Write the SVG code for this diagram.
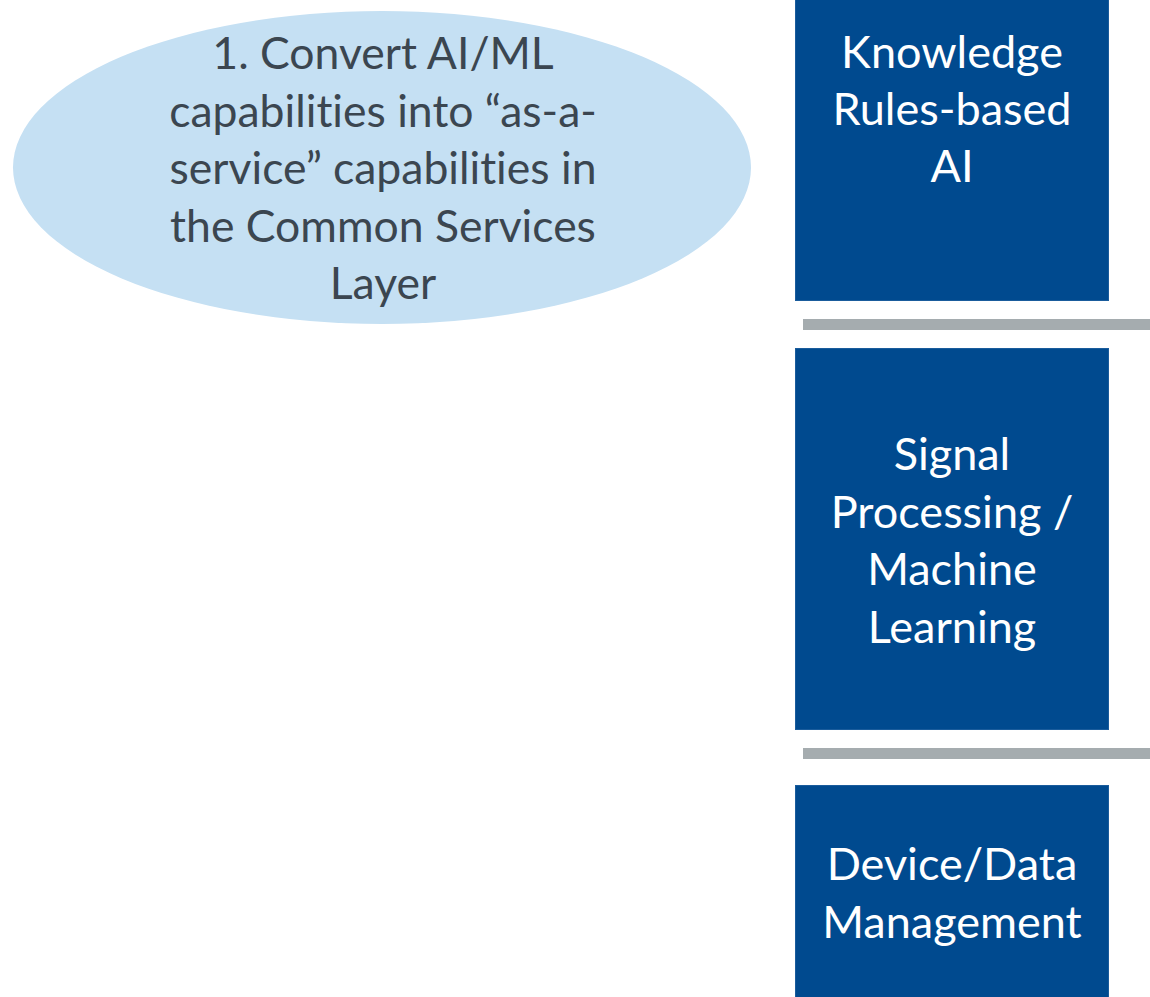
<svg xmlns="http://www.w3.org/2000/svg" width="1150" height="997" viewBox="0 0 1150 997">
<style>
.box{fill:#004a8f;stroke:#1a5c9c;stroke-width:1}
.bar{fill:#a5acaf}
.wt{font-family:Lato,"Open Sans","Liberation Sans",sans-serif;font-size:45px;fill:#ffffff;text-anchor:middle;font-variant-ligatures:none}
.gt{font-family:Lato,"Open Sans","Liberation Sans",sans-serif;font-size:44.5px;fill:#3b4650;text-anchor:middle;font-variant-ligatures:none}
</style>
<rect width="1150" height="997" fill="#ffffff"/>
<g id="ellipse1">
<ellipse cx="382" cy="167.5" rx="369" ry="156.5" fill="#c5e0f3"/>
<text class="gt"><tspan x="383" y="69">1. Convert AI/ML</tspan><tspan x="383" y="127">capabilities into “as-a-</tspan><tspan x="383" y="184">service” capabilities in</tspan><tspan x="383" y="242">the Common Services</tspan><tspan x="383" y="299">Layer</tspan></text>
</g>
<g id="connectors">
<rect class="bar" x="803" y="319" width="347" height="11"/>
<rect class="bar" x="803" y="748" width="347" height="11"/>
</g>
<g id="knowledge">
<rect class="box" x="795.5" y="-1" width="313" height="301.5"/>
<text class="wt"><tspan x="952" y="68">Knowledge</tspan><tspan x="952" y="125">Rules-based</tspan><tspan x="952" y="182">AI</tspan></text>
</g>
<g id="signal">
<rect class="box" x="795.5" y="348.5" width="313" height="381"/>
<text class="wt"><tspan x="952" y="470">Signal</tspan><tspan x="952" y="528">Processing /</tspan><tspan x="952" y="585">Machine</tspan><tspan x="952" y="643">Learning</tspan></text>
</g>
<g id="device">
<rect class="box" x="795.5" y="785.5" width="313" height="215"/>
<text class="wt"><tspan x="952" y="880">Device/Data</tspan><tspan x="952" y="938">Management</tspan></text>
</g>
</svg>
